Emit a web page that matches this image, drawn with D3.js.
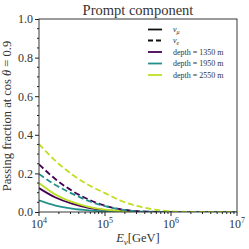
<!DOCTYPE html>
<html><head><meta charset="utf-8">
<script src="https://cdn.jsdelivr.net/npm/d3@7"></script>
<style>body{margin:0;background:#fff}svg{display:block}</style>
</head><body>
<script>
const logE = [4.0,4.25,4.5,4.75,5.0,5.25,5.5,5.75,6.0,6.25,6.5,6.75,7.0];
const depths = ["1350","1950","2550"];
const colors = ["#440154","#21918c","#bddf26"];
// nu_mu (solid)
const numu1350 = [0.124,0.075,0.043,0.022,0.010,0.004,0.001,0,0,0,0,0,0];
const numu1950 = [0.060,0.033,0.017,0.008,0.003,0.001,0,0,0,0,0,0,0];
const numu2550 = [0.150,0.090,0.052,0.027,0.012,0.004,0.001,0,0,0,0,0,0];
// nu_e (dashed)
const nue1350 = [0.247,0.170,0.110,0.065,0.033,0.013,0.004,0.001,0,0,0,0,0];
const nue1950 = [0.197,0.140,0.095,0.058,0.030,0.012,0.004,0.001,0,0,0,0,0];
const nue2550 = [0.352,0.265,0.195,0.140,0.098,0.057,0.030,0.012,0.004,0.001,0,0,0];
const yTicks = [0.0,0.2,0.4,0.6,0.8,1.0];
const xTickExp = [4,5,6,7];

const W=249,H=249;
const svg=d3.select("body").append("svg").attr("width",W).attr("height",H);
const font="Liberation Serif";
const x=d3.scaleLog().domain([1e4,1e7]).range([39,237]);
const y=d3.scaleLinear().domain([0,1]).range([212,19]);

const series=[
 {v:numu1350,c:colors[0],d:null},{v:numu1950,c:colors[1],d:null},{v:numu2550,c:colors[2],d:null},
 {v:nue1350,c:colors[0],d:"6,3"},{v:nue1950,c:colors[1],d:"6,3"},{v:nue2550,c:colors[2],d:"6,3"}
];
const line=d3.line().x((d,i)=>x(Math.pow(10,logE[i]))).y(d=>y(d)).curve(d3.curveMonotoneX);
const g=svg.append("g");
g.append("clipPath").attr("id","clip").append("rect").attr("x",39).attr("y",19).attr("width",198).attr("height",193);
series.forEach(s=>{
  g.append("path").attr("d",line(s.v)).attr("fill","none").attr("stroke",s.c)
   .attr("stroke-width",1.8).attr("stroke-dasharray",s.d).attr("clip-path","url(#clip)");
});

// frame
svg.append("rect").attr("x",39).attr("y",19).attr("width",198).attr("height",193)
  .attr("fill","none").attr("stroke","#222").attr("stroke-width",0.9);

// y axis
const yAxis=d3.axisLeft(y).tickValues(yTicks).tickFormat(d3.format(".1f")).tickSize(4).tickPadding(2);
const ya=svg.append("g").attr("transform","translate(39,0)").call(yAxis);
ya.select(".domain").remove();
ya.selectAll("text").attr("font-family",font).attr("font-size",12).attr("fill","#333");
ya.selectAll("line").attr("stroke","#222");
const yMinor=d3.range(0,1.0001,0.05).filter(v=>Math.abs(v*5-Math.round(v*5))>1e-6);
svg.append("g").selectAll("line").data(yMinor).join("line")
  .attr("x1",37).attr("x2",39).attr("y1",d=>y(d)).attr("y2",d=>y(d)).attr("stroke","#222");

// x axis
const xMajor=xTickExp.map(e=>Math.pow(10,e));
svg.append("g").selectAll("line").data(xMajor).join("line")
  .attr("x1",d=>x(d)).attr("x2",d=>x(d)).attr("y1",212).attr("y2",216).attr("stroke","#222");
const xMinor=[];
[4,5,6].forEach(e=>{for(let k=2;k<=9;k++)xMinor.push(k*Math.pow(10,e));});
svg.append("g").selectAll("line").data(xMinor).join("line")
  .attr("x1",d=>x(d)).attr("x2",d=>x(d)).attr("y1",212).attr("y2",214).attr("stroke","#222");
const xl=svg.append("g").selectAll("text").data(xTickExp).join("text")
  .attr("x",d=>x(Math.pow(10,d))).attr("y",228).attr("text-anchor","middle")
  .attr("font-family",font).attr("font-size",12).attr("fill","#333");
xl.append("tspan").text("10");
xl.append("tspan").attr("font-size",8).attr("dy",-5).text(d=>d);

// title
svg.append("text").attr("x",138).attr("y",15).attr("text-anchor","middle")
  .attr("font-family",font).attr("font-size",14.5).attr("fill","#333").text("Prompt component");
// y label
svg.append("text").attr("transform","translate(11,116) rotate(-90)").attr("text-anchor","middle")
  .attr("font-family",font).attr("font-size",12.5).attr("fill","#333")
  .html('Passing fraction at cos <tspan font-style="italic">θ</tspan> = 0.9');
// x label
const xt=svg.append("text").attr("x",138).attr("y",242).attr("text-anchor","middle")
  .attr("font-family",font).attr("font-size",12.5).attr("fill","#333");
xt.append("tspan").attr("font-style","italic").text("E");
xt.append("tspan").attr("font-style","italic").attr("font-size",9).attr("dy",3).text("ν");
xt.append("tspan").attr("dy",-3).text("[GeV]");

// legend
const leg=[
 {t:"ν",sub:"μ",c:"#111",d:null},
 {t:"ν",sub:"e",c:"#111",d:"5,3"},
 {t:"depth = "+depths[0]+" m",c:colors[0],d:null},
 {t:"depth = "+depths[1]+" m",c:colors[1],d:null},
 {t:"depth = "+depths[2]+" m",c:colors[2],d:null}
];
const lg=svg.append("g");
const ly=[29.5,40.5,52,63.5,75];
leg.forEach((l,i)=>{
  lg.append("line").attr("x1",148).attr("x2",162).attr("y1",ly[i]).attr("y2",ly[i])
    .attr("stroke",l.c).attr("stroke-width",1.8).attr("stroke-dasharray",l.d);
  const t=lg.append("text").attr("x",173).attr("y",ly[i]+2.5)
    .attr("font-family",font).attr("font-size",8).attr("fill","#333");
  t.append("tspan").attr("font-style",l.sub?"italic":null).text(l.t);
  if(l.sub)t.append("tspan").attr("font-size",6).attr("dy",1.5).attr("font-style","italic").text(l.sub);
});
</script>
</body></html>
